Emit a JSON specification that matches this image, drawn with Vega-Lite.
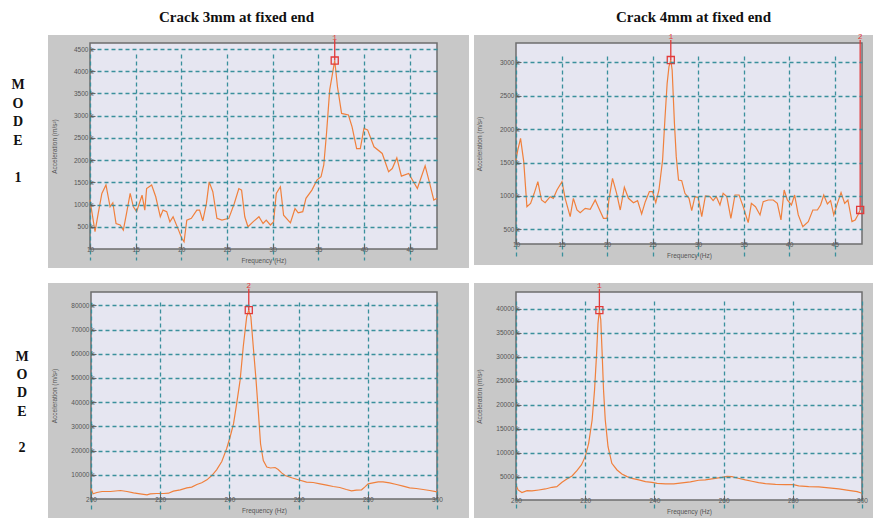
{
  "$schema": "https://vega.github.io/schema/vega-lite/v6.json",
  "background": "white",
  "padding": 0,
  "columns": 3,
  "spacing": {"row": 15, "column": 5},
  "align": "each",
  "bounds": "flush",
  "datasets": {
    "m1_3mm": [
      {"freq": 10, "acc": 1100}, {"freq": 10.55, "acc": 390}, {"freq": 10.9, "acc": 800}, {"freq": 11.3, "acc": 1250},
      {"freq": 11.75, "acc": 1440}, {"freq": 12.2, "acc": 950}, {"freq": 12.5, "acc": 1040}, {"freq": 12.85, "acc": 575},
      {"freq": 13.3, "acc": 540}, {"freq": 13.65, "acc": 425}, {"freq": 14.0, "acc": 800}, {"freq": 14.4, "acc": 1250},
      {"freq": 14.75, "acc": 950}, {"freq": 15.1, "acc": 840}, {"freq": 15.7, "acc": 1210}, {"freq": 16.0, "acc": 875},
      {"freq": 16.2, "acc": 1360}, {"freq": 16.75, "acc": 1440}, {"freq": 17.2, "acc": 1175}, {"freq": 17.7, "acc": 725},
      {"freq": 18.0, "acc": 875}, {"freq": 18.4, "acc": 840}, {"freq": 18.75, "acc": 610}, {"freq": 19.1, "acc": 725},
      {"freq": 19.7, "acc": 425}, {"freq": 20.05, "acc": 240}, {"freq": 20.3, "acc": 160}, {"freq": 20.6, "acc": 650},
      {"freq": 21.1, "acc": 690}, {"freq": 21.7, "acc": 875}, {"freq": 22.0, "acc": 875}, {"freq": 22.35, "acc": 635},
      {"freq": 22.75, "acc": 1025}, {"freq": 23.05, "acc": 1510}, {"freq": 23.45, "acc": 1290}, {"freq": 23.9, "acc": 690},
      {"freq": 24.45, "acc": 650}, {"freq": 25.2, "acc": 690}, {"freq": 25.8, "acc": 1025}, {"freq": 26.3, "acc": 1360},
      {"freq": 26.6, "acc": 1325}, {"freq": 26.95, "acc": 725}, {"freq": 27.3, "acc": 500}, {"freq": 27.85, "acc": 610},
      {"freq": 28.5, "acc": 725}, {"freq": 28.95, "acc": 575}, {"freq": 29.3, "acc": 650}, {"freq": 29.75, "acc": 540},
      {"freq": 30.1, "acc": 610}, {"freq": 30.4, "acc": 1250}, {"freq": 30.85, "acc": 1400}, {"freq": 31.2, "acc": 760},
      {"freq": 31.95, "acc": 590}, {"freq": 32.45, "acc": 910}, {"freq": 32.8, "acc": 815}, {"freq": 33.3, "acc": 840},
      {"freq": 33.65, "acc": 1140}, {"freq": 34.3, "acc": 1325}, {"freq": 34.85, "acc": 1550}, {"freq": 35.3, "acc": 1625},
      {"freq": 35.6, "acc": 1890}, {"freq": 35.9, "acc": 2600}, {"freq": 36.25, "acc": 3580}, {"freq": 36.8, "acc": 4240},
      {"freq": 37.1, "acc": 3650}, {"freq": 37.55, "acc": 3050}, {"freq": 38.3, "acc": 3015}, {"freq": 38.7, "acc": 2750},
      {"freq": 39.2, "acc": 2260}, {"freq": 39.6, "acc": 2260}, {"freq": 40.0, "acc": 2715}, {"freq": 40.4, "acc": 2680},
      {"freq": 41.1, "acc": 2300}, {"freq": 42.0, "acc": 2150}, {"freq": 42.7, "acc": 1740}, {"freq": 43.1, "acc": 1810},
      {"freq": 43.6, "acc": 2050}, {"freq": 44.1, "acc": 1640}, {"freq": 44.9, "acc": 1700}, {"freq": 45.85, "acc": 1360},
      {"freq": 46.7, "acc": 1870}, {"freq": 47.2, "acc": 1475}, {"freq": 47.65, "acc": 1100}, {"freq": 48.0, "acc": 1140}
    ],
    "m1_4mm": [
      {"freq": 10, "acc": 1538}, {"freq": 10.2, "acc": 1688}, {"freq": 10.5, "acc": 1862}, {"freq": 10.85, "acc": 1513},
      {"freq": 11.2, "acc": 839}, {"freq": 11.6, "acc": 889}, {"freq": 12.0, "acc": 1039}, {"freq": 12.4, "acc": 1214},
      {"freq": 12.8, "acc": 939}, {"freq": 13.2, "acc": 899}, {"freq": 13.75, "acc": 989}, {"freq": 14.1, "acc": 964},
      {"freq": 14.5, "acc": 1089}, {"freq": 15.05, "acc": 1214}, {"freq": 15.4, "acc": 964}, {"freq": 15.95, "acc": 690},
      {"freq": 16.3, "acc": 964}, {"freq": 16.7, "acc": 789}, {"freq": 17.05, "acc": 750}, {"freq": 17.6, "acc": 814},
      {"freq": 18.15, "acc": 799}, {"freq": 18.7, "acc": 939}, {"freq": 19.1, "acc": 814}, {"freq": 19.6, "acc": 665},
      {"freq": 20.0, "acc": 665}, {"freq": 20.2, "acc": 939}, {"freq": 20.6, "acc": 1263}, {"freq": 21.05, "acc": 1039},
      {"freq": 21.45, "acc": 789}, {"freq": 21.9, "acc": 1129}, {"freq": 22.35, "acc": 964}, {"freq": 22.9, "acc": 899},
      {"freq": 23.35, "acc": 929}, {"freq": 23.8, "acc": 730}, {"freq": 24.2, "acc": 914}, {"freq": 24.65, "acc": 1064},
      {"freq": 25.0, "acc": 1064}, {"freq": 25.35, "acc": 899}, {"freq": 25.7, "acc": 1089}, {"freq": 26.1, "acc": 1538},
      {"freq": 26.35, "acc": 2137}, {"freq": 26.6, "acc": 2686}, {"freq": 26.8, "acc": 2935}, {"freq": 27.0, "acc": 3035},
      {"freq": 27.15, "acc": 2885}, {"freq": 27.4, "acc": 2087}, {"freq": 27.6, "acc": 1588}, {"freq": 27.85, "acc": 1238},
      {"freq": 28.2, "acc": 1228}, {"freq": 28.55, "acc": 1039}, {"freq": 29.0, "acc": 964}, {"freq": 29.3, "acc": 779},
      {"freq": 29.65, "acc": 989}, {"freq": 30.0, "acc": 979}, {"freq": 30.4, "acc": 690}, {"freq": 30.8, "acc": 999},
      {"freq": 31.3, "acc": 989}, {"freq": 31.65, "acc": 929}, {"freq": 32.0, "acc": 989}, {"freq": 32.4, "acc": 864},
      {"freq": 32.75, "acc": 1039}, {"freq": 33.15, "acc": 989}, {"freq": 33.6, "acc": 665}, {"freq": 34.05, "acc": 1014},
      {"freq": 34.5, "acc": 1014}, {"freq": 34.95, "acc": 839}, {"freq": 35.5, "acc": 600}, {"freq": 35.85, "acc": 889},
      {"freq": 36.3, "acc": 839}, {"freq": 36.8, "acc": 715}, {"freq": 37.15, "acc": 914}, {"freq": 37.7, "acc": 939},
      {"freq": 38.25, "acc": 939}, {"freq": 38.7, "acc": 889}, {"freq": 39.1, "acc": 640}, {"freq": 39.45, "acc": 1089},
      {"freq": 39.8, "acc": 939}, {"freq": 40.25, "acc": 864}, {"freq": 40.6, "acc": 1014}, {"freq": 41.0, "acc": 715},
      {"freq": 41.5, "acc": 540}, {"freq": 42.1, "acc": 615}, {"freq": 42.6, "acc": 789}, {"freq": 43.1, "acc": 789},
      {"freq": 43.45, "acc": 864}, {"freq": 43.8, "acc": 1014}, {"freq": 44.2, "acc": 879}, {"freq": 44.55, "acc": 929},
      {"freq": 44.9, "acc": 715}, {"freq": 45.3, "acc": 889}, {"freq": 45.7, "acc": 1049}, {"freq": 46.1, "acc": 889},
      {"freq": 46.45, "acc": 939}, {"freq": 46.9, "acc": 615}, {"freq": 47.25, "acc": 640}, {"freq": 47.55, "acc": 715},
      {"freq": 47.8, "acc": 790}
    ],
    "m2_3mm": [
      {"freq": 200, "acc": 4600}, {"freq": 200.6, "acc": 2130}, {"freq": 201.7, "acc": 2680}, {"freq": 203.2, "acc": 3100},
      {"freq": 205.6, "acc": 3100}, {"freq": 208.5, "acc": 3500}, {"freq": 210.4, "acc": 3100}, {"freq": 212.3, "acc": 2540},
      {"freq": 214.2, "acc": 2130}, {"freq": 216.2, "acc": 1710}, {"freq": 217.1, "acc": 2130}, {"freq": 219.0, "acc": 2270},
      {"freq": 221.0, "acc": 2270}, {"freq": 222.4, "acc": 2400}, {"freq": 223.8, "acc": 3230}, {"freq": 225.8, "acc": 3800},
      {"freq": 227.7, "acc": 4600}, {"freq": 229.1, "acc": 4900}, {"freq": 230.6, "acc": 6000}, {"freq": 232.0, "acc": 6700},
      {"freq": 233.5, "acc": 7900}, {"freq": 234.9, "acc": 9700}, {"freq": 236.3, "acc": 12070}, {"freq": 237.8, "acc": 15500},
      {"freq": 239.2, "acc": 20800}, {"freq": 240.2, "acc": 25600}, {"freq": 241.2, "acc": 31100}, {"freq": 242.1, "acc": 39400},
      {"freq": 243.1, "acc": 49100}, {"freq": 244.0, "acc": 62900}, {"freq": 245.0, "acc": 75300}, {"freq": 245.6, "acc": 78000},
      {"freq": 246.2, "acc": 75300}, {"freq": 246.9, "acc": 62900}, {"freq": 247.7, "acc": 49100}, {"freq": 248.4, "acc": 35300},
      {"freq": 249.0, "acc": 22800}, {"freq": 249.8, "acc": 15900}, {"freq": 250.8, "acc": 13200}, {"freq": 251.9, "acc": 12800},
      {"freq": 253.2, "acc": 13000}, {"freq": 254.1, "acc": 12200}, {"freq": 255.1, "acc": 10800}, {"freq": 256.1, "acc": 9700},
      {"freq": 258.0, "acc": 8760}, {"freq": 259.9, "acc": 7930}, {"freq": 262.3, "acc": 6960}, {"freq": 264.2, "acc": 6820},
      {"freq": 266.2, "acc": 6270}, {"freq": 268.1, "acc": 5720}, {"freq": 270.0, "acc": 5170}, {"freq": 271.9, "acc": 4750},
      {"freq": 273.8, "acc": 3920}, {"freq": 275.3, "acc": 3370}, {"freq": 276.7, "acc": 3650}, {"freq": 278.2, "acc": 3790},
      {"freq": 279.1, "acc": 4890}, {"freq": 280.1, "acc": 6270}, {"freq": 281.5, "acc": 6690}, {"freq": 283.0, "acc": 7100},
      {"freq": 284.4, "acc": 7100}, {"freq": 286.3, "acc": 6690}, {"freq": 288.3, "acc": 6000}, {"freq": 290.2, "acc": 5300},
      {"freq": 292.1, "acc": 4610}, {"freq": 294.0, "acc": 4340}, {"freq": 296.0, "acc": 3920}, {"freq": 297.9, "acc": 3510},
      {"freq": 300, "acc": 2960}
    ],
    "m2_4mm": [
      {"freq": 200, "acc": 3330}, {"freq": 200.6, "acc": 2290}, {"freq": 201.7, "acc": 1740}, {"freq": 203.2, "acc": 2150},
      {"freq": 204.6, "acc": 2090}, {"freq": 206.6, "acc": 2290}, {"freq": 208.5, "acc": 2500}, {"freq": 210.4, "acc": 2850},
      {"freq": 211.8, "acc": 2990}, {"freq": 213.3, "acc": 3890}, {"freq": 214.7, "acc": 4580}, {"freq": 216.2, "acc": 5210},
      {"freq": 217.6, "acc": 6320}, {"freq": 218.9, "acc": 7500}, {"freq": 220.0, "acc": 9230}, {"freq": 221.0, "acc": 12000},
      {"freq": 222.0, "acc": 16870}, {"freq": 222.7, "acc": 23100}, {"freq": 223.3, "acc": 30750}, {"freq": 223.7, "acc": 37000},
      {"freq": 224.1, "acc": 39770}, {"freq": 224.5, "acc": 37700}, {"freq": 224.9, "acc": 30750}, {"freq": 225.3, "acc": 23100},
      {"freq": 225.8, "acc": 16870}, {"freq": 226.6, "acc": 11300}, {"freq": 227.7, "acc": 7850}, {"freq": 229.2, "acc": 6460},
      {"freq": 230.6, "acc": 5620}, {"freq": 232.1, "acc": 5070}, {"freq": 233.5, "acc": 4720}, {"freq": 235.5, "acc": 4380},
      {"freq": 237.4, "acc": 4030}, {"freq": 239.3, "acc": 3890}, {"freq": 240.8, "acc": 3680}, {"freq": 243.2, "acc": 3540},
      {"freq": 245.6, "acc": 3540}, {"freq": 248.0, "acc": 3750}, {"freq": 250.4, "acc": 3960}, {"freq": 252.8, "acc": 4310},
      {"freq": 254.7, "acc": 4380}, {"freq": 257.1, "acc": 4650}, {"freq": 259.5, "acc": 4930}, {"freq": 261.0, "acc": 5140},
      {"freq": 262.4, "acc": 5070}, {"freq": 263.9, "acc": 4790}, {"freq": 266.3, "acc": 4380}, {"freq": 268.2, "acc": 4100},
      {"freq": 270.1, "acc": 3820}, {"freq": 272.1, "acc": 3610}, {"freq": 275.0, "acc": 3470}, {"freq": 277.8, "acc": 3400},
      {"freq": 280.2, "acc": 3400}, {"freq": 281.7, "acc": 3130}, {"freq": 284.6, "acc": 2990}, {"freq": 287.5, "acc": 2920},
      {"freq": 290.4, "acc": 2710}, {"freq": 293.3, "acc": 2500}, {"freq": 296.1, "acc": 2220}, {"freq": 298.6, "acc": 1950},
      {"freq": 300, "acc": 1600}
    ],
    "markers": [
      {"panel": "m1_3mm", "freq": 36.8, "acc": 4240, "id": "1"},
      {"panel": "m1_4mm", "freq": 27.0, "acc": 3035, "id": "1"},
      {"panel": "m1_4mm", "freq": 47.8, "acc": 790, "id": "2"},
      {"panel": "m2_3mm", "freq": 245.6, "acc": 78000, "id": "2"},
      {"panel": "m2_4mm", "freq": 224.1, "acc": 39770, "id": "1"}
    ]
  },
  "concat": [
    {
      "width": 43, "height": 20,
      "data": {"values": [{}]},
      "mark": {"type": "text", "text": " "}
    },
    {
      "width": 421, "height": 20,
      "data": {"values": [{"label": "Crack 3mm at fixed end"}]},
      "mark": {"type": "text", "font": "Liberation Serif", "fontWeight": "bold", "fontSize": 15, "color": "#111111", "baseline": "middle", "dx": -22, "dy": 7},
      "encoding": {"text": {"field": "label"}}
    },
    {
      "width": 399, "height": 20,
      "data": {"values": [{"label": "Crack 4mm at fixed end"}]},
      "mark": {"type": "text", "font": "Liberation Serif", "fontWeight": "bold", "fontSize": 15, "color": "#111111", "baseline": "middle", "dx": 20, "dy": 7},
      "encoding": {"text": {"field": "label"}}
    },
    {
      "width": 43, "height": 233,
      "layer": [
        {
          "data": {"values": [{"label": "M\nO\nD\nE"}]},
          "mark": {"type": "text", "font": "Liberation Serif", "fontWeight": "bold", "fontSize": 14, "color": "#111111", "baseline": "middle", "lineBreak": "\n", "lineHeight": 18.6, "dx": -3.5, "dy": -66.5},
          "encoding": {"text": {"field": "label"}}
        },
        {
          "data": {"values": [{"label": "1"}]},
          "mark": {"type": "text", "font": "Liberation Serif", "fontWeight": "bold", "fontSize": 14, "color": "#111111", "baseline": "middle", "dx": -3.5, "dy": 26.5},
          "encoding": {"text": {"field": "label"}}
        }
      ]
    },
    {
      "width": 421, "height": 233,
      "view": {"fill": "#c8c8c8", "stroke": null},
      "resolve": {"axis": {"x": "independent", "y": "independent"}},
      "layer": [
        {
          "data": {"values": [{}]},
          "mark": {"type": "rect", "fill": "#e6e6f1", "stroke": "#6e6e6e", "strokeWidth": 1.5},
          "encoding": {
            "x": {"datum": 10, "type": "quantitative", "scale": {"domain": [10, 48], "range": [42, 389], "nice": false, "zero": false}, "axis": null},
            "x2": {"datum": 48},
            "y": {"datum": 0, "type": "quantitative", "scale": {"domain": [0, 4635], "range": [214, 8], "nice": false, "zero": false}, "axis": null},
            "y2": {"datum": 4635}
          }
        },
        {
          "data": {"name": "m1_3mm"},
          "mark": {"type": "line", "color": "#f0803c", "strokeWidth": 1.2},
          "encoding": {
            "x": {"field": "freq", "type": "quantitative", "scale": {"domain": [10, 48], "range": [42, 389], "nice": false, "zero": false},
              "axis": {"orient": "bottom", "grid": true, "values": [10, 15, 20, 25, 30, 35, 40, 45], "title": "Frequency (Hz)", "offset": -19, "zindex": 1, "titleX": 215.5, "titleY": 11, "titleBaseline": "middle"}},
            "y": {"field": "acc", "type": "quantitative", "scale": {"domain": [0, 4635], "range": [214, 8], "nice": false, "zero": false},
              "axis": {"orient": "left", "grid": true, "values": [500, 1000, 1500, 2000, 2500, 3000, 3500, 4000, 4500], "labelExpr": "datum.value + ' k'", "title": "Acceleration (m/s²)", "offset": -42, "zindex": 1, "titleX": -36, "titleY": 111, "titleAngle": 270, "titleBaseline": "middle", "titleAlign": "center"}}
          }
        },
        {
          "data": {"name": "markers"},
          "transform": [{"filter": "datum.panel == 'm1_3mm'"}],
          "layer": [
            {
              "mark": {"type": "rule", "color": "#e23a3a", "strokeWidth": 1.3},
              "encoding": {
                "x": {"field": "freq", "type": "quantitative", "axis": null},
                "y": {"field": "acc", "type": "quantitative", "axis": null},
                "y2": {"datum": 4700}
              }
            },
            {
              "mark": {"type": "point", "shape": "square", "filled": false, "size": 50, "color": "#e23a3a", "strokeWidth": 1.3, "opacity": 1},
              "encoding": {
                "x": {"field": "freq", "type": "quantitative", "axis": null},
                "y": {"field": "acc", "type": "quantitative", "axis": null}
              }
            },
            {
              "mark": {"type": "text", "color": "#e23a3a", "fontSize": 8, "font": "Liberation Mono", "baseline": "middle"},
              "encoding": {
                "x": {"field": "freq", "type": "quantitative", "axis": null},
                "y": {"datum": 4750, "type": "quantitative", "axis": null},
                "text": {"field": "id"}
              }
            }
          ]
        }
      ]
    },
    {
      "width": 399, "height": 230,
      "view": {"fill": "#c8c8c8", "stroke": null},
      "resolve": {"axis": {"x": "independent", "y": "independent"}},
      "layer": [
        {
          "data": {"values": [{}]},
          "mark": {"type": "rect", "fill": "#e6e6f1", "stroke": "#6e6e6e", "strokeWidth": 1.5},
          "encoding": {
            "x": {"datum": 10, "type": "quantitative", "scale": {"domain": [10, 48], "range": [42, 388], "nice": false, "zero": false}, "axis": null},
            "x2": {"datum": 48},
            "y": {"datum": 280, "type": "quantitative", "scale": {"domain": [280, 3290], "range": [209, 8], "nice": false, "zero": false}, "axis": null},
            "y2": {"datum": 3290}
          }
        },
        {
          "data": {"name": "m1_4mm"},
          "mark": {"type": "line", "color": "#f0803c", "strokeWidth": 1.2},
          "encoding": {
            "x": {"field": "freq", "type": "quantitative", "scale": {"domain": [10, 48], "range": [42, 388], "nice": false, "zero": false},
              "axis": {"orient": "bottom", "grid": true, "values": [10, 15, 20, 25, 30, 35, 40, 45], "title": "Frequency (Hz)", "offset": -21, "zindex": 1, "titleX": 215, "titleY": 11, "titleBaseline": "middle"}},
            "y": {"field": "acc", "type": "quantitative", "scale": {"domain": [280, 3290], "range": [209, 8], "nice": false, "zero": false},
              "axis": {"orient": "left", "grid": true, "values": [500, 1000, 1500, 2000, 2500, 3000], "labelExpr": "datum.value + ' k'", "title": "Acceleration (m/s²)", "offset": -42, "zindex": 1, "titleX": -37, "titleY": 108.5, "titleAngle": 270, "titleBaseline": "middle", "titleAlign": "center"}}
          }
        },
        {
          "data": {"name": "markers"},
          "transform": [{"filter": "datum.panel == 'm1_4mm'"}],
          "layer": [
            {
              "mark": {"type": "rule", "color": "#e23a3a", "strokeWidth": 1.3},
              "encoding": {
                "x": {"field": "freq", "type": "quantitative", "axis": null},
                "y": {"field": "acc", "type": "quantitative", "axis": null},
                "y2": {"datum": 3335}
              }
            },
            {
              "mark": {"type": "point", "shape": "square", "filled": false, "size": 50, "color": "#e23a3a", "strokeWidth": 1.3, "opacity": 1},
              "encoding": {
                "x": {"field": "freq", "type": "quantitative", "axis": null},
                "y": {"field": "acc", "type": "quantitative", "axis": null}
              }
            },
            {
              "mark": {"type": "text", "color": "#e23a3a", "fontSize": 8, "font": "Liberation Mono", "baseline": "middle"},
              "encoding": {
                "x": {"field": "freq", "type": "quantitative", "axis": null},
                "y": {"datum": 3380, "type": "quantitative", "axis": null},
                "text": {"field": "id"}
              }
            }
          ]
        }
      ]
    },
    {
      "width": 43, "height": 235,
      "layer": [
        {
          "data": {"values": [{"label": "M\nO\nD\nE"}]},
          "mark": {"type": "text", "font": "Liberation Serif", "fontWeight": "bold", "fontSize": 14, "color": "#111111", "baseline": "middle", "lineBreak": "\n", "lineHeight": 18.2, "dx": 0.5, "dy": -43.5},
          "encoding": {"text": {"field": "label"}}
        },
        {
          "data": {"values": [{"label": "2"}]},
          "mark": {"type": "text", "font": "Liberation Serif", "fontWeight": "bold", "fontSize": 14, "color": "#111111", "baseline": "middle", "dx": 0.5, "dy": 47.5},
          "encoding": {"text": {"field": "label"}}
        }
      ]
    },
    {
      "width": 421, "height": 235,
      "view": {"fill": "#c8c8c8", "stroke": null},
      "resolve": {"axis": {"x": "independent", "y": "independent"}},
      "layer": [
        {
          "data": {"values": [{}]},
          "mark": {"type": "rect", "fill": "#e6e6f1", "stroke": "#6e6e6e", "strokeWidth": 1.5},
          "encoding": {
            "x": {"datum": 200, "type": "quantitative", "scale": {"domain": [200, 300], "range": [43, 389], "nice": false, "zero": false}, "axis": null},
            "x2": {"datum": 300},
            "y": {"datum": 0, "type": "quantitative", "scale": {"domain": [0, 85500], "range": [216, 9], "nice": false, "zero": false}, "axis": null},
            "y2": {"datum": 85500}
          }
        },
        {
          "data": {"name": "m2_3mm"},
          "mark": {"type": "line", "color": "#f0803c", "strokeWidth": 1.2},
          "encoding": {
            "x": {"field": "freq", "type": "quantitative", "scale": {"domain": [200, 300], "range": [43, 389], "nice": false, "zero": false},
              "axis": {"orient": "bottom", "grid": true, "values": [200, 220, 240, 260, 280, 300], "title": "Frequency (Hz)", "offset": -19, "zindex": 1, "titleX": 216, "titleY": 11, "titleBaseline": "middle"}},
            "y": {"field": "acc", "type": "quantitative", "scale": {"domain": [0, 85500], "range": [216, 9], "nice": false, "zero": false},
              "axis": {"orient": "left", "grid": true, "values": [10000, 20000, 30000, 40000, 50000, 60000, 70000, 80000], "labelExpr": "datum.value + ' k'", "title": "Acceleration (m/s²)", "offset": -43, "zindex": 1, "titleX": -37, "titleY": 112.5, "titleAngle": 270, "titleBaseline": "middle", "titleAlign": "center"}}
          }
        },
        {
          "data": {"name": "markers"},
          "transform": [{"filter": "datum.panel == 'm2_3mm'"}],
          "layer": [
            {
              "mark": {"type": "rule", "color": "#e23a3a", "strokeWidth": 1.3},
              "encoding": {
                "x": {"field": "freq", "type": "quantitative", "axis": null},
                "y": {"field": "acc", "type": "quantitative", "axis": null},
                "y2": {"datum": 86800}
              }
            },
            {
              "mark": {"type": "point", "shape": "square", "filled": false, "size": 50, "color": "#e23a3a", "strokeWidth": 1.3, "opacity": 1},
              "encoding": {
                "x": {"field": "freq", "type": "quantitative", "axis": null},
                "y": {"field": "acc", "type": "quantitative", "axis": null}
              }
            },
            {
              "mark": {"type": "text", "color": "#e23a3a", "fontSize": 8, "font": "Liberation Mono", "baseline": "middle"},
              "encoding": {
                "x": {"field": "freq", "type": "quantitative", "axis": null},
                "y": {"datum": 88000, "type": "quantitative", "axis": null},
                "text": {"field": "id"}
              }
            }
          ]
        }
      ]
    },
    {
      "width": 399, "height": 235,
      "view": {"fill": "#c8c8c8", "stroke": null},
      "resolve": {"axis": {"x": "independent", "y": "independent"}},
      "layer": [
        {
          "data": {"values": [{}]},
          "mark": {"type": "rect", "fill": "#e6e6f1", "stroke": "#6e6e6e", "strokeWidth": 1.5},
          "encoding": {
            "x": {"datum": 200, "type": "quantitative", "scale": {"domain": [200, 300], "range": [42, 388], "nice": false, "zero": false}, "axis": null},
            "x2": {"datum": 300},
            "y": {"datum": 200, "type": "quantitative", "scale": {"domain": [200, 43540], "range": [217, 9], "nice": false, "zero": false}, "axis": null},
            "y2": {"datum": 43540}
          }
        },
        {
          "data": {"name": "m2_4mm"},
          "mark": {"type": "line", "color": "#f0803c", "strokeWidth": 1.2},
          "encoding": {
            "x": {"field": "freq", "type": "quantitative", "scale": {"domain": [200, 300], "range": [42, 388], "nice": false, "zero": false},
              "axis": {"orient": "bottom", "grid": true, "values": [200, 220, 240, 260, 280, 300], "title": "Frequency (Hz)", "offset": -18, "zindex": 1, "titleX": 215, "titleY": 11, "titleBaseline": "middle"}},
            "y": {"field": "acc", "type": "quantitative", "scale": {"domain": [200, 43540], "range": [217, 9], "nice": false, "zero": false},
              "axis": {"orient": "left", "grid": true, "values": [5000, 10000, 15000, 20000, 25000, 30000, 35000, 40000], "labelExpr": "datum.value + ' k'", "title": "Acceleration (m/s²)", "offset": -42, "zindex": 1, "titleX": -37, "titleY": 113, "titleAngle": 270, "titleBaseline": "middle", "titleAlign": "center"}}
          }
        },
        {
          "data": {"name": "markers"},
          "transform": [{"filter": "datum.panel == 'm2_4mm'"}],
          "layer": [
            {
              "mark": {"type": "rule", "color": "#e23a3a", "strokeWidth": 1.3},
              "encoding": {
                "x": {"field": "freq", "type": "quantitative", "axis": null},
                "y": {"field": "acc", "type": "quantitative", "axis": null},
                "y2": {"datum": 44170}
              }
            },
            {
              "mark": {"type": "point", "shape": "square", "filled": false, "size": 50, "color": "#e23a3a", "strokeWidth": 1.3, "opacity": 1},
              "encoding": {
                "x": {"field": "freq", "type": "quantitative", "axis": null},
                "y": {"field": "acc", "type": "quantitative", "axis": null}
              }
            },
            {
              "mark": {"type": "text", "color": "#e23a3a", "fontSize": 8, "font": "Liberation Mono", "baseline": "middle"},
              "encoding": {
                "x": {"field": "freq", "type": "quantitative", "axis": null},
                "y": {"datum": 44800, "type": "quantitative", "axis": null},
                "text": {"field": "id"}
              }
            }
          ]
        }
      ]
    }
  ],
  "config": {
    "view": {"stroke": null},
    "axis": {
      "labelFont": "Liberation Sans", "labelFontSize": 6.5, "labelColor": "#555555",
      "titleFont": "Liberation Sans", "titleFontSize": 6.5, "titleFontWeight": "normal", "titleColor": "#555555",
      "grid": true, "gridColor": "#3a909c", "gridDash": [4, 3], "gridWidth": 1.3,
      "domain": false, "ticks": true, "tickColor": "#666666", "tickSize": -5, "labelPadding": 2,
      "labelFlush": false, "labelOverlap": false, "labelBound": false
    }
  }
}
